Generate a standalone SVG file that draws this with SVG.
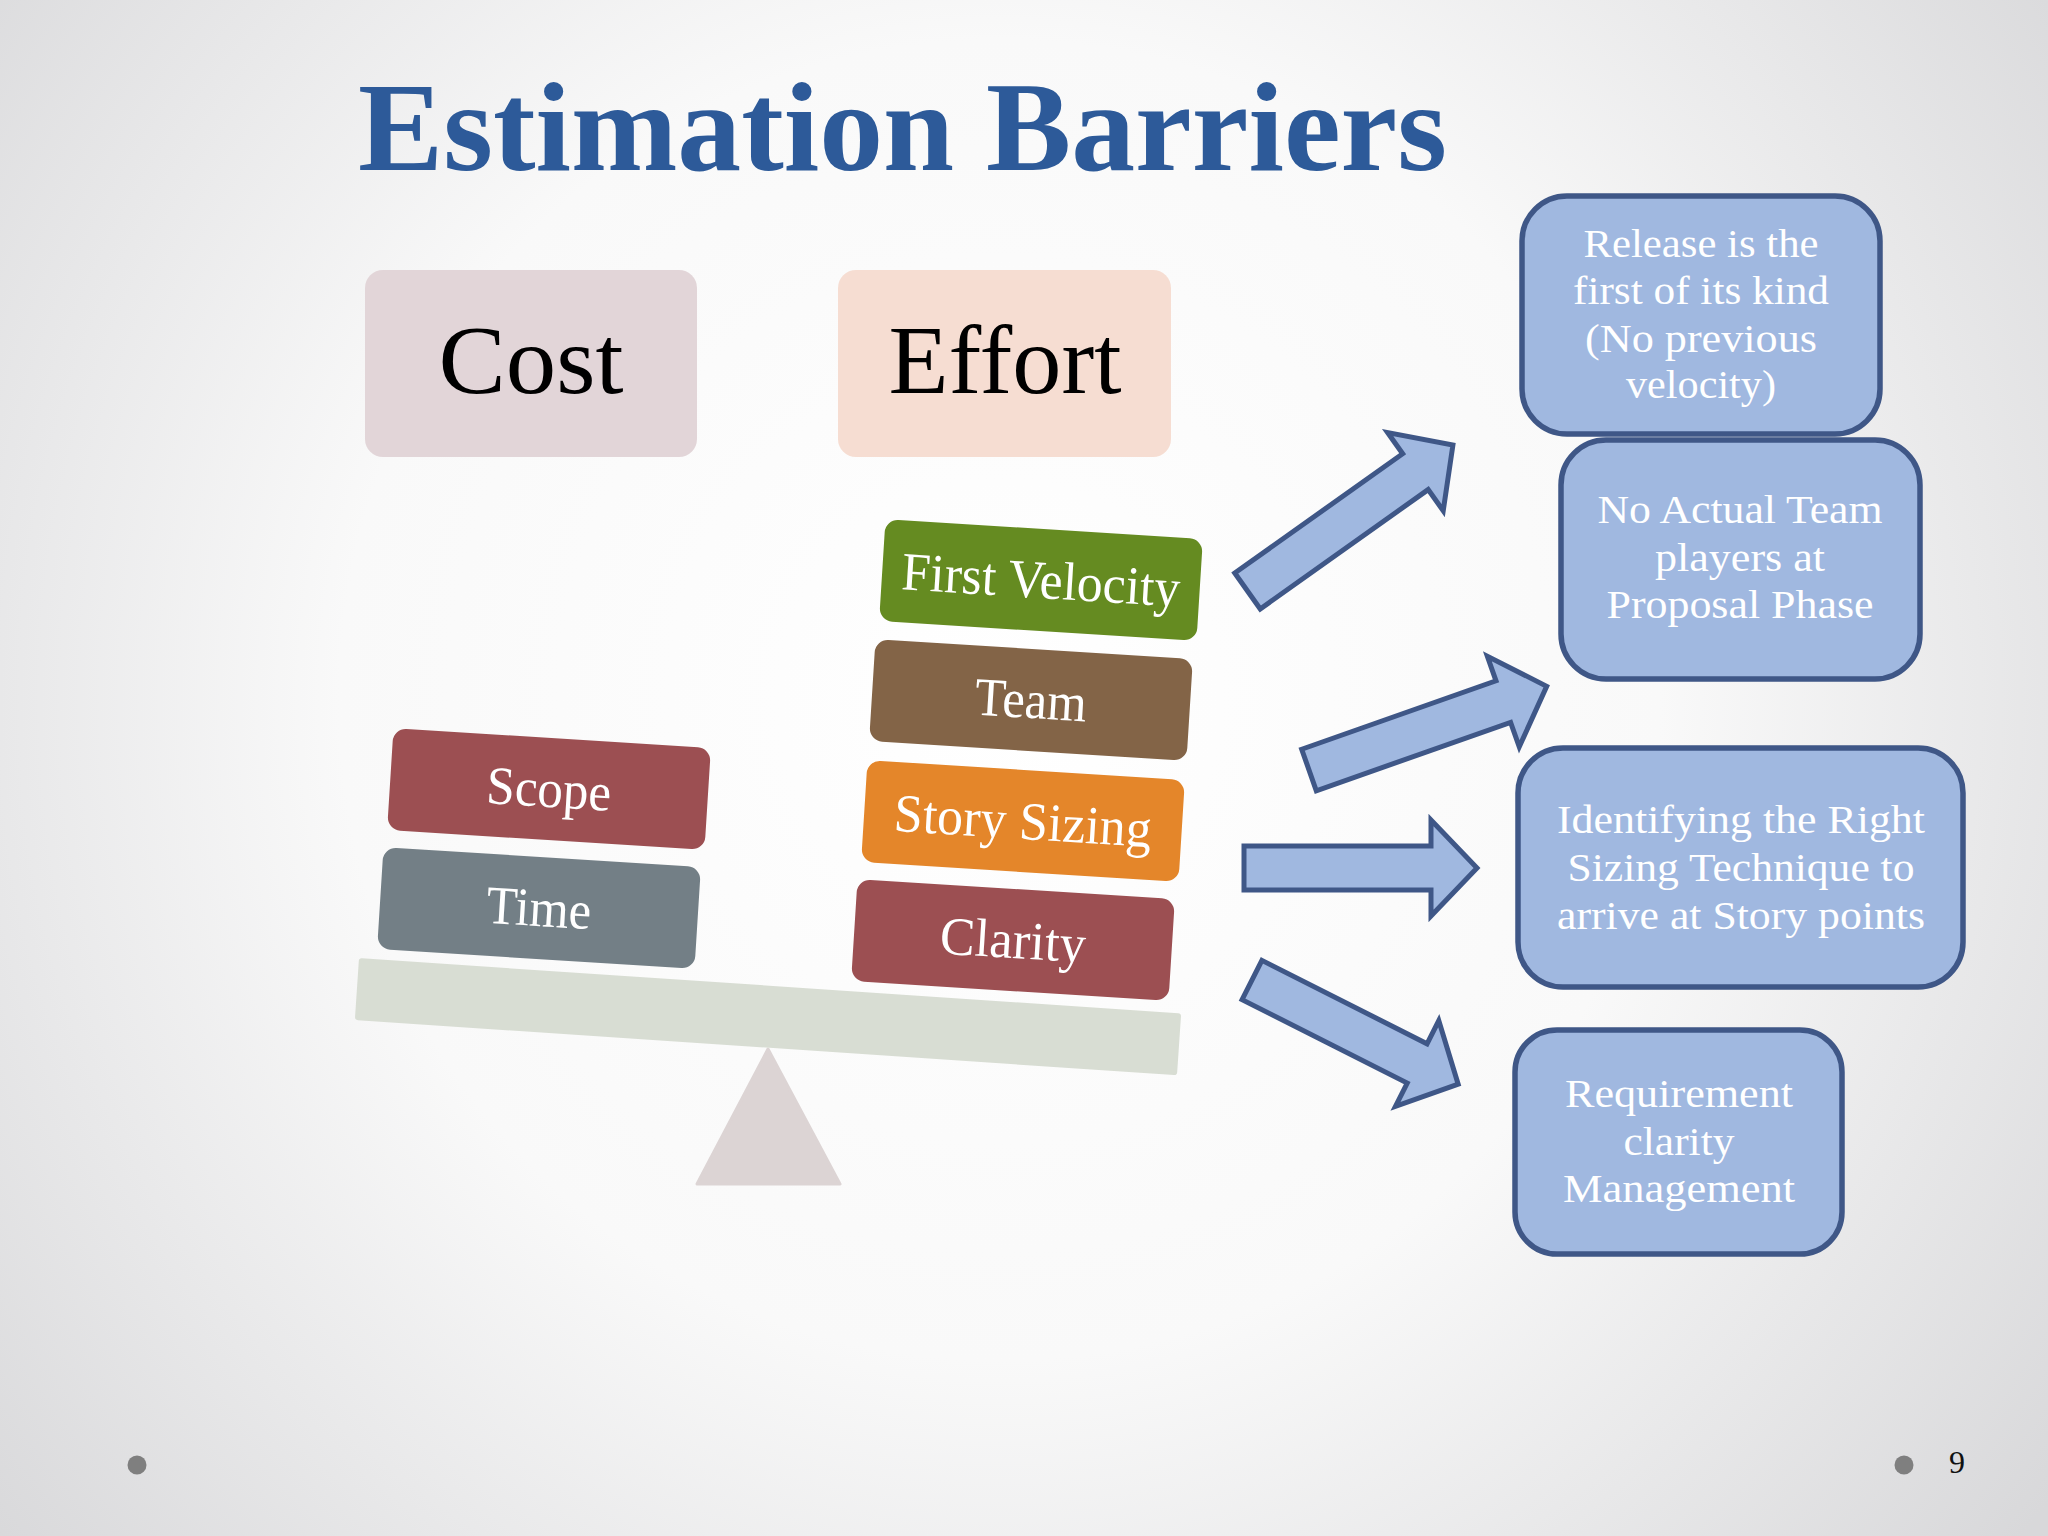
<svg xmlns="http://www.w3.org/2000/svg" width="2048" height="1536" viewBox="0 0 2048 1536">
<defs>
<radialGradient id="bg" gradientUnits="userSpaceOnUse" cx="1000" cy="700" r="1320">
<stop offset="0" stop-color="#FFFFFF"/>
<stop offset="0.5" stop-color="#F9F9F9"/>
<stop offset="1" stop-color="#D8D8DA"/>
</radialGradient>
<style>
.t{font-family:"Liberation Serif","Times New Roman",serif}
.title{font-size:128px;font-weight:bold;fill:#2D5A99}
.big{font-size:98px;fill:#000}
.blk{font-size:54px;fill:#FFFFFF}
.bx{font-size:40px;fill:#FFFFFF}
.box{fill:#A0B8E0;stroke:#3F5787;stroke-width:5.5}
.arr{fill:#A0B8E0;stroke:#3F5787;stroke-width:5;stroke-linejoin:miter}
</style>
</defs>
<rect x="0" y="0" width="2048" height="1536" fill="url(#bg)"/>

<text class="t title" x="358" y="170" textLength="1089" lengthAdjust="spacingAndGlyphs">Estimation Barriers</text>

<g id="cost">
<rect x="365" y="270" width="332" height="187" rx="18" fill="#E2D5D8"/>
<text class="t big" x="531" y="393" text-anchor="middle" textLength="185" lengthAdjust="spacingAndGlyphs">Cost</text>
</g>
<g id="effort">
<rect x="838" y="270" width="333" height="187" rx="18" fill="#F6DDD2"/>
<text class="t big" x="1005" y="393" text-anchor="middle" textLength="233" lengthAdjust="spacingAndGlyphs">Effort</text>
</g>

<g id="fulcrum">
<path d="M768,1049 L840,1184 L697,1184 Z" fill="#DCD4D4" stroke="#DCD4D4" stroke-width="3" stroke-linejoin="round"/>
</g>
<g id="beam" transform="translate(768,1016.7) rotate(3.85)">
<rect x="-412" y="-31" width="824" height="62" rx="3" fill="#D8DDD3"/>
</g>

<g id="scope" transform="translate(549,789) rotate(3.6)">
<rect x="-159" y="-51" width="318" height="102" rx="13" fill="#9C4F52"/>
<text class="t blk" x="0" y="18" text-anchor="middle" textLength="125" lengthAdjust="spacingAndGlyphs">Scope</text>
</g>
<g id="time" transform="translate(539,908) rotate(3.6)">
<rect x="-159" y="-51" width="318" height="102" rx="13" fill="#737F86"/>
<text class="t blk" x="0" y="18" text-anchor="middle" textLength="105" lengthAdjust="spacingAndGlyphs">Time</text>
</g>
<g id="first-velocity" transform="translate(1041,580) rotate(3.6)">
<rect x="-159" y="-51" width="318" height="102" rx="13" fill="#658B21"/>
<text class="t blk" x="0" y="18" text-anchor="middle" textLength="279" lengthAdjust="spacingAndGlyphs">First Velocity</text>
</g>
<g id="team" transform="translate(1031,700) rotate(3.6)">
<rect x="-159" y="-51" width="318" height="102" rx="13" fill="#836447"/>
<text class="t blk" x="0" y="18" text-anchor="middle" textLength="112" lengthAdjust="spacingAndGlyphs">Team</text>
</g>
<g id="story-sizing" transform="translate(1023,821) rotate(3.6)">
<rect x="-159" y="-51" width="318" height="102" rx="13" fill="#E4862A"/>
<text class="t blk" x="0" y="18" text-anchor="middle" textLength="258" lengthAdjust="spacingAndGlyphs">Story Sizing</text>
</g>
<g id="clarity" transform="translate(1013,940) rotate(3.6)">
<rect x="-159" y="-51" width="318" height="102" rx="13" fill="#9C4F52"/>
<text class="t blk" x="0" y="18" text-anchor="middle" textLength="146" lengthAdjust="spacingAndGlyphs">Clarity</text>
</g>

<g id="connectors">
<path class="arr" transform="translate(1247.5,591) rotate(-35.4)" d="M0,-22 L206,-22 L206,-48 L252,0 L206,48 L206,22 L0,22 Z"/>
<path class="arr" transform="translate(1309,770) rotate(-19.4)" d="M0,-22 L206,-22 L206,-48 L252,0 L206,48 L206,22 L0,22 Z"/>
<path class="arr" transform="translate(1244,868)" d="M0,-22 L187,-22 L187,-48 L233,0 L187,48 L187,22 L0,22 Z"/>
<path class="arr" transform="translate(1252,980) rotate(26.8)" d="M0,-22 L185,-22 L185,-48 L231,0 L185,48 L185,22 L0,22 Z"/>
</g>

<g id="release">
<rect class="box" x="1522" y="196" width="358" height="238" rx="45"/>
<text class="t bx" x="1701" y="257" text-anchor="middle" textLength="235" lengthAdjust="spacingAndGlyphs">Release is the</text>
<text class="t bx" x="1701" y="304" text-anchor="middle" textLength="256" lengthAdjust="spacingAndGlyphs">first of its kind</text>
<text class="t bx" x="1701" y="352" text-anchor="middle" textLength="232" lengthAdjust="spacingAndGlyphs">(No previous</text>
<text class="t bx" x="1701" y="398" text-anchor="middle" textLength="150" lengthAdjust="spacingAndGlyphs">velocity)</text>
</g>
<g id="no-team">
<rect class="box" x="1561" y="440" width="359" height="239" rx="45"/>
<text class="t bx" x="1740" y="523" text-anchor="middle" textLength="285" lengthAdjust="spacingAndGlyphs">No Actual Team</text>
<text class="t bx" x="1740" y="571" text-anchor="middle" textLength="170" lengthAdjust="spacingAndGlyphs">players at</text>
<text class="t bx" x="1740" y="618" text-anchor="middle" textLength="267" lengthAdjust="spacingAndGlyphs">Proposal Phase</text>
</g>
<g id="sizing">
<rect class="box" x="1518" y="748" width="445" height="239" rx="45"/>
<text class="t bx" x="1741" y="833" text-anchor="middle" textLength="368" lengthAdjust="spacingAndGlyphs">Identifying the Right</text>
<text class="t bx" x="1741" y="881" text-anchor="middle" textLength="347" lengthAdjust="spacingAndGlyphs">Sizing Technique to</text>
<text class="t bx" x="1741" y="929" text-anchor="middle" textLength="368" lengthAdjust="spacingAndGlyphs">arrive at Story points</text>
</g>
<g id="requirement">
<rect class="box" x="1515" y="1030" width="327" height="224" rx="42"/>
<text class="t bx" x="1679" y="1107" text-anchor="middle" textLength="228" lengthAdjust="spacingAndGlyphs">Requirement</text>
<text class="t bx" x="1679" y="1155" text-anchor="middle" textLength="111" lengthAdjust="spacingAndGlyphs">clarity</text>
<text class="t bx" x="1679" y="1202" text-anchor="middle" textLength="232" lengthAdjust="spacingAndGlyphs">Management</text>
</g>

<circle cx="137" cy="1465" r="9.5" fill="#7F7F7F"/>
<circle cx="1904" cy="1465" r="9.5" fill="#7F7F7F"/>
<text class="t" x="1957" y="1473" font-size="32" fill="#111111" text-anchor="middle">9</text>
</svg>
